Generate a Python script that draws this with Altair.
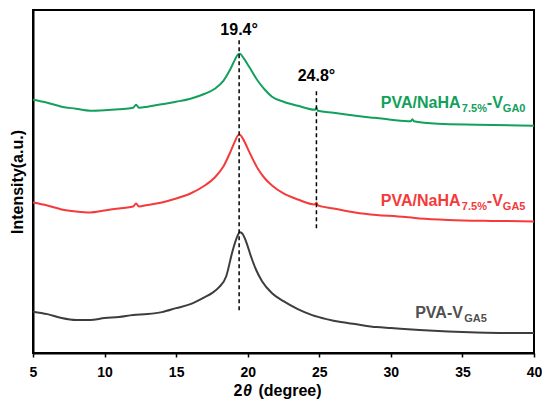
import altair as alt
import pandas as pd

# ---- data (intensity in arbitrary units) ----
x_gray = [5, 6, 7, 8, 9, 10, 11, 12, 13, 14, 15, 16, 17, 17.5, 18, 18.5, 18.9, 19.1, 19.3, 19.45,
          19.6, 19.8, 20.0, 20.2, 20.6, 21, 21.7, 22.5, 23.5, 24.5, 25.5, 26.5, 27.5, 29, 30, 32, 34,
          36, 38, 40]
y_gray = [41.5, 39, 35, 33, 33, 35, 36, 38, 39, 41, 45, 49, 56, 60, 66, 77, 100, 110, 118, 121,
          120, 115, 107, 98, 83, 72, 60, 52, 44, 38, 34, 31, 29, 26, 25, 23, 21.5,
          20.5, 20, 20]

x_red = [5, 6, 7, 8, 9, 10, 11, 12, 12.2, 12.4, 13, 14, 15, 16, 17, 17.7, 18.3, 18.8, 19.1, 19.3,
         19.45, 19.7, 20.1, 20.7, 21.2, 21.7, 22.5, 23.5, 24.7, 24.8, 24.9, 26, 27.5, 29, 30.5, 32,
         34, 37, 40]
y_red = [151, 148, 144, 142, 141, 143, 145, 147, 150, 147, 148.5, 151, 155, 160, 168, 176, 187, 202, 212, 218,
         219, 214, 202, 185, 175, 168, 160, 154, 149, 151, 148, 145, 141, 138.5, 137, 135,
         133.5, 132.5, 132]

x_green = [5, 6, 7, 8, 9, 10, 11, 12, 12.2, 12.4, 13, 14, 15, 16, 17, 17.7, 18.3, 18.8, 19.1, 19.3,
           19.45, 19.7, 20.1, 20.7, 21.2, 21.7, 22.5, 23.5, 24.7, 24.8, 24.9, 26, 27, 28.7, 30, 31.4,
           31.5, 31.6, 33.3, 36, 40]
y_green = [254, 251, 247, 245, 243, 243.5, 244.5, 246, 249, 246, 247, 249.5, 252, 255, 260, 265, 273, 285, 294, 299,
           300, 296, 287, 273, 264, 257, 252, 248, 244, 246, 243, 241, 239, 236, 234, 232.5,
           234.5, 232.5, 230, 229, 228]

series_names = ["PVA-VGA5", "PVA/NaHA-VGA5", "PVA/NaHA-VGA0"]
series_colors = ["#3d3d3d", "#f43a3a", "#12a05c"]
label_colors = ["#505050", "#f43a3a", "#12a05c"]

peak_pos = [19.4, 24.8]
peak_text = ["19.4°", "24.8°"]
peak_rule_lo = [43, 125]
peak_rule_hi = [316, 265]
peak_label_y = [324, 278]

x_ticks = [5, 7.5, 10, 12.5, 15, 17.5, 20, 22.5, 25, 27.5, 30, 32.5, 35, 37.5, 40]

# ---- build tables ----
rows = []
for name, xs, ys in [(series_names[0], x_gray, y_gray),
                     (series_names[1], x_red, y_red),
                     (series_names[2], x_green, y_green)]:
    for a, b in zip(xs, ys):
        rows.append({"theta": a, "I": b, "series": name})
df = pd.DataFrame(rows)

FONT = "Liberation Sans"

xscale = alt.Scale(domain=[5, 40], nice=False, zero=False)
yscale = alt.Scale(domain=[0, 344], nice=False, zero=False)

lines = alt.Chart(df).mark_line(strokeWidth=2, clip=True, interpolate="monotone").encode(
    x=alt.X("theta:Q", scale=xscale,
            axis=alt.Axis(values=x_ticks, labelExpr="datum.value % 5 == 0 ? datum.label : ''",
                          tickSize=4, tickWidth=1.5, tickColor="black", domainColor="black",
                          domainWidth=2, labelFont=FONT, labelFontSize=14, labelFontWeight="bold",
                          labelColor="black", labelPadding=8, grid=False, title=None,
                          labelFlush=False)),
    y=alt.Y("I:Q", scale=yscale,
            axis=alt.Axis(labels=False, ticks=False, grid=False, domainColor="black", domainWidth=2,
                          title="Intensity(a.u.)", titleFont=FONT, titleFontSize=16,
                          titleFontWeight="bold", titleColor="black", titlePadding=8)),
    color=alt.Color("series:N", scale=alt.Scale(domain=series_names, range=series_colors), legend=None),
    order="theta:Q",
)

rdf = pd.DataFrame({"x": peak_pos, "lo": peak_rule_lo, "hi": peak_rule_hi,
                    "t": peak_text, "ly": peak_label_y})
rules = alt.Chart(rdf).mark_rule(strokeDash=[4, 3], strokeWidth=1.5, color="black").encode(
    x="x:Q", y="lo:Q", y2="hi:Q")
peaks = alt.Chart(rdf).mark_text(font=FONT, fontSize=16, fontWeight="bold", color="black",
                                 baseline="middle").encode(x="x:Q", y="ly:Q", text="t:N")


def piece(text, x, y, color, dx=0, dy=0, size=16, style="normal"):
    d = pd.DataFrame({"t": [text], "x": [x], "y": [y]})
    return alt.Chart(d).mark_text(font=FONT, fontSize=size, fontWeight="bold", fontStyle=style,
                                  color=color, align="left", baseline="alphabetic",
                                  dx=dx, dy=dy).encode(x="x:Q", y="y:Q", text="t:N")


lbl = []
# green label
gx, gy = 29.3, 246
lbl += [piece("PVA/NaHA", gx, gy, label_colors[2]),
        piece("7.5%", gx, gy, label_colors[2], dx=81, dy=4, size=11),
        piece("-V", gx, gy, label_colors[2], dx=106),
        piece("GA0", gx, gy, label_colors[2], dx=122, dy=4, size=11)]
# red label
rx, ry = 29.3, 147
lbl += [piece("PVA/NaHA", rx, ry, label_colors[1]),
        piece("7.5%", rx, ry, label_colors[1], dx=81, dy=4, size=11),
        piece("-V", rx, ry, label_colors[1], dx=106),
        piece("GA5", rx, ry, label_colors[1], dx=122, dy=4, size=11)]
# gray label
kx, ky = 31.7, 35
lbl += [piece("PVA-V", kx, ky, label_colors[0]),
        piece("GA5", kx, ky, label_colors[0], dx=49, dy=4, size=11)]

# x-axis title "2θ (degree)" with italic theta
tx, ty = 19.0, -43
lbl += [piece("2", tx, ty, "black"),
        piece("θ", tx, ty, "black", dx=9.5, style="italic"),
        piece("(degree)", tx, ty, "black", dx=25)]

chart = alt.layer(lines, rules, peaks, *lbl).properties(
    width=501, height=343,
    autosize=alt.AutoSizeParams(type="none"),
    padding={"left": 25, "top": 2, "right": 8, "bottom": 46},
).configure_view(stroke="black", strokeWidth=2)

chart.save("out.html", embed_options={"renderer": "svg", "actions": False})
